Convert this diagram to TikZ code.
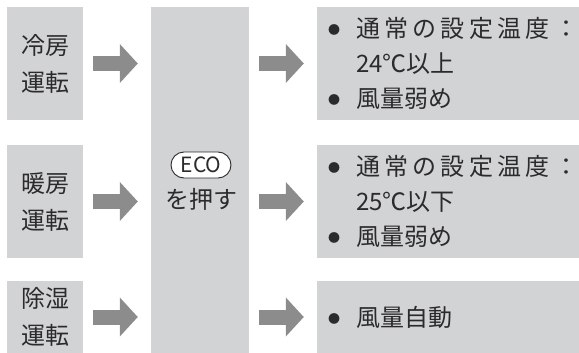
\documentclass[tikz,border=0pt]{standalone}
\usepackage{fontspec}
\setmainfont{Noto Sans CJK JP}
\usetikzlibrary{arrows.meta,positioning}
\definecolor{boxgray}{HTML}{D2D3D5}
\definecolor{arrowgray}{HTML}{8C8C8C}
\definecolor{inkgray}{HTML}{2B2B2B}
\newcommand{\itemdot}{\makebox[33pt][l]{\hspace{5pt}\raisebox{3pt}{\fontsize{12}{12}\selectfont ●}}}

\begin{document}
\begin{tikzpicture}[x=1pt, y=-1pt,
        modebox/.style={rectangle, fill=boxgray, minimum width=76pt, minimum height=113pt, inner sep=0pt, align=center, text=inkgray, font=\fontsize{24}{37}\selectfont},
        ecobox/.style={rectangle, fill=boxgray, minimum width=98pt, minimum height=346pt, inner sep=0pt},
        keybox/.style={rectangle, draw=inkgray, line width=0.9pt, fill=white, rounded corners=13pt, minimum width=60pt, minimum height=26pt, inner sep=0pt, text=inkgray, font=\fontsize{21}{21}\selectfont},
        resbox/.style={rectangle, fill=boxgray, minimum height=113pt, text width=250pt, inner xsep=6pt, inner ysep=0pt, align=left, text=inkgray, font=\fontsize{24}{35}\selectfont},
        bigarrow/.style={draw=arrowgray, line width=15pt, -{Triangle[length=18pt, width=38pt]}, shorten <=10pt, shorten >=13pt}
    ]
    \useasboundingbox (0,0) rectangle (579,353);
    % Operating modes
    \node[modebox] (cool) at (45,63.5) {冷房\\運転};
    \node[modebox] (heat) at (45,201.5) {暖房\\運転};
    \node[modebox, minimum height=72pt] (dry) at (45,317) {除湿\\運転};
    % ECO button
    \node[ecobox] (eco) at (200,180) {};
    \node[keybox] (key) at (201,165) {ECO};
    \node[below=10pt of key, text=inkgray, font=\fontsize{24}{24}\selectfont, inner sep=0pt] (press) {を押す};
    % Results
    \node[resbox] (coolres) at (448,63.5) {\itemdot{\addfontfeature{LetterSpace=18}通常の設定温度：}\\\hspace*{33pt}24℃以上\\\itemdot 風量弱め};
    \node[resbox] (heatres) at (448,201.5) {\itemdot{\addfontfeature{LetterSpace=18}通常の設定温度：}\\\hspace*{33pt}25℃以下\\\itemdot 風量弱め};
    \node[resbox, minimum height=72pt] (dryres) at (448,317) {\itemdot 風量自動};
    % Arrows
    \draw[bigarrow] (cool.east) -- (cool.east -| eco.west);
    \draw[bigarrow] (heat.east) -- (heat.east -| eco.west);
    \draw[bigarrow] (dry.east) -- (dry.east -| eco.west);
    \draw[bigarrow] (eco.east |- coolres.west) -- (coolres.west);
    \draw[bigarrow] (eco.east |- heatres.west) -- (heatres.west);
    \draw[bigarrow] (eco.east |- dryres.west) -- (dryres.west);
\end{tikzpicture}
\end{document}
